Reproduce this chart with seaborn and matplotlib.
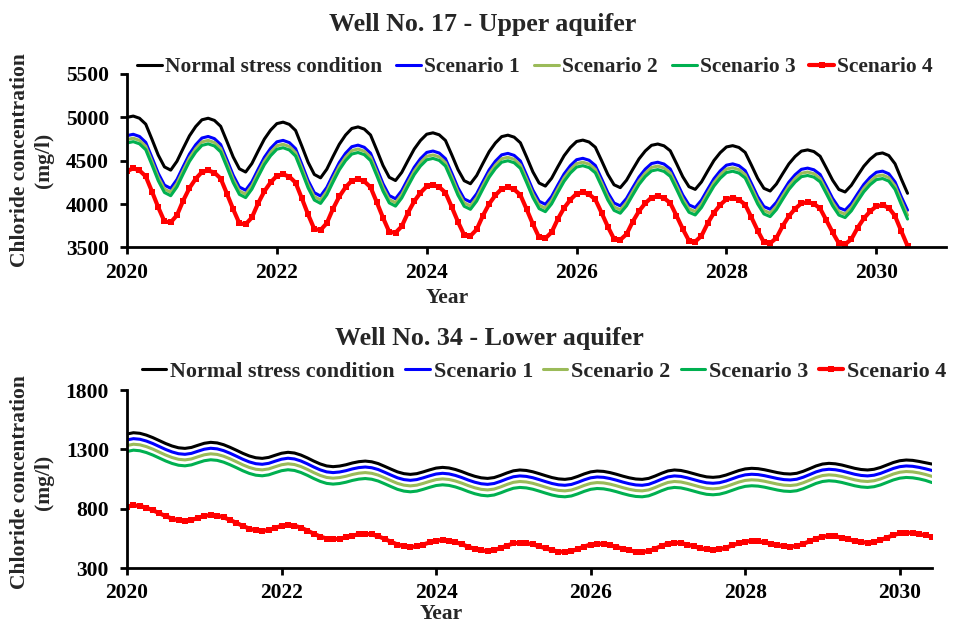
import numpy as np
import pandas as pd
import matplotlib
matplotlib.use("Agg")
import matplotlib.pyplot as plt
import seaborn as sns

# Monthly simulation steps, Jan 2020 .. Jun 2030
months = pd.date_range("2020-01-01", "2030-06-01", freq="MS")
years = np.asarray(months.year + (months.month - 1) / 12.0, dtype=float)

series_names = ["Normal stress condition", "Scenario 1", "Scenario 2",
                "Scenario 3", "Scenario 4"]
series_colors = ["#000000", "#0000FF", "#9BBB59", "#00B050", "#FF0000"]

# ---- Well No. 17 - Upper aquifer (mg/l) ----
upper_normal = [
    5000, 5015, 4990, 4922, 4747, 4566, 4429, 4392, 4494, 4643, 4787, 4894,
    4972, 4990, 4965, 4897, 4723, 4544, 4407, 4370, 4468, 4612, 4750, 4853,
    4928, 4945, 4919, 4849, 4669, 4483, 4342, 4303, 4403, 4550, 4690, 4796,
    4872, 4890, 4865, 4797, 4624, 4445, 4309, 4272, 4366, 4503, 4635, 4734,
    4806, 4822, 4799, 4734, 4570, 4399, 4270, 4235, 4330, 4470, 4605, 4705,
    4778, 4795, 4772, 4707, 4543, 4372, 4243, 4208, 4298, 4431, 4558, 4653,
    4722, 4738, 4716, 4656, 4502, 4343, 4223, 4190, 4276, 4401, 4522, 4613,
    4678, 4693, 4672, 4615, 4468, 4316, 4201, 4170, 4256, 4382, 4503, 4593,
    4659, 4674, 4653, 4596, 4449, 4297, 4182, 4151, 4232, 4350, 4464, 4549,
    4611, 4625, 4606, 4552, 4416, 4276, 4169, 4140, 4217, 4329, 4437, 4518,
    4577, 4590, 4560, 4465, 4290, 4125,
]
upper_s1 = [
    4790, 4805, 4780, 4712, 4537, 4356, 4219, 4182, 4284, 4433, 4577, 4684,
    4762, 4780, 4755, 4687, 4513, 4334, 4197, 4160, 4258, 4402, 4540, 4643,
    4718, 4735, 4709, 4639, 4459, 4273, 4132, 4093, 4193, 4340, 4480, 4586,
    4662, 4680, 4655, 4587, 4414, 4235, 4099, 4062, 4156, 4293, 4425, 4524,
    4596, 4612, 4589, 4524, 4360, 4189, 4060, 4025, 4120, 4260, 4395, 4495,
    4568, 4585, 4562, 4497, 4333, 4162, 4033, 3998, 4088, 4221, 4348, 4443,
    4512, 4528, 4506, 4446, 4292, 4133, 4013, 3980, 4066, 4191, 4312, 4403,
    4468, 4483, 4462, 4405, 4258, 4106, 3991, 3960, 4046, 4172, 4293, 4383,
    4449, 4464, 4443, 4386, 4239, 4087, 3972, 3941, 4022, 4140, 4254, 4339,
    4401, 4415, 4396, 4342, 4206, 4066, 3959, 3930, 4007, 4119, 4227, 4308,
    4367, 4380, 4350, 4255, 4085, 3930,
]
upper_s2 = [
    4745, 4760, 4735, 4667, 4492, 4311, 4174, 4137, 4239, 4388, 4532, 4639,
    4717, 4735, 4710, 4642, 4468, 4289, 4152, 4115, 4213, 4357, 4495, 4598,
    4673, 4690, 4664, 4594, 4414, 4228, 4087, 4048, 4148, 4295, 4435, 4541,
    4617, 4635, 4610, 4542, 4369, 4190, 4054, 4017, 4111, 4248, 4380, 4479,
    4551, 4567, 4544, 4479, 4315, 4144, 4015, 3980, 4075, 4215, 4350, 4450,
    4523, 4540, 4517, 4452, 4288, 4117, 3988, 3953, 4043, 4176, 4303, 4398,
    4467, 4483, 4461, 4401, 4247, 4088, 3968, 3935, 4021, 4146, 4267, 4358,
    4423, 4438, 4417, 4360, 4213, 4061, 3946, 3915, 4001, 4127, 4248, 4338,
    4404, 4419, 4398, 4341, 4194, 4042, 3927, 3896, 3977, 4095, 4209, 4294,
    4356, 4370, 4351, 4297, 4161, 4021, 3914, 3885, 3962, 4074, 4182, 4263,
    4322, 4335, 4305, 4210, 4038, 3872,
]
upper_s3 = [
    4705, 4720, 4695, 4627, 4452, 4271, 4134, 4097, 4199, 4348, 4492, 4599,
    4677, 4695, 4670, 4602, 4428, 4249, 4112, 4075, 4173, 4317, 4455, 4558,
    4633, 4650, 4624, 4554, 4374, 4188, 4047, 4008, 4108, 4255, 4395, 4501,
    4577, 4595, 4570, 4502, 4329, 4150, 4014, 3977, 4071, 4208, 4340, 4439,
    4511, 4527, 4504, 4439, 4275, 4104, 3975, 3940, 4035, 4175, 4310, 4410,
    4483, 4500, 4477, 4412, 4248, 4077, 3948, 3913, 4003, 4136, 4263, 4358,
    4427, 4443, 4421, 4361, 4207, 4048, 3928, 3895, 3981, 4106, 4227, 4318,
    4383, 4398, 4377, 4320, 4173, 4021, 3906, 3875, 3961, 4087, 4208, 4298,
    4364, 4379, 4358, 4301, 4154, 4002, 3887, 3856, 3937, 4055, 4169, 4254,
    4316, 4330, 4311, 4257, 4121, 3981, 3874, 3845, 3922, 4034, 4142, 4223,
    4282, 4295, 4265, 4170, 3995, 3828,
]
upper_s4 = [
    4380, 4413, 4388, 4320, 4145, 3964, 3800, 3790, 3872, 4041, 4185, 4292,
    4370, 4388, 4363, 4295, 4121, 3942, 3778, 3768, 3846, 4010, 4148, 4251,
    4326, 4343, 4317, 4247, 4067, 3881, 3712, 3701, 3781, 3948, 4088, 4194,
    4270, 4288, 4263, 4195, 4022, 3843, 3680, 3670, 3744, 3901, 4033, 4132,
    4204, 4220, 4197, 4132, 3968, 3797, 3643, 3633, 3708, 3868, 4003, 4103,
    4176, 4193, 4170, 4105, 3941, 3770, 3616, 3606, 3676, 3829, 3956, 4051,
    4120, 4136, 4114, 4054, 3900, 3741, 3598, 3588, 3654, 3799, 3920, 4011,
    4076, 4091, 4070, 4013, 3866, 3714, 3578, 3568, 3634, 3780, 3901, 3991,
    4057, 4072, 4051, 3994, 3847, 3695, 3559, 3549, 3610, 3748, 3862, 3947,
    4009, 4023, 4004, 3950, 3814, 3674, 3548, 3538, 3595, 3727, 3835, 3916,
    3975, 3988, 3958, 3863, 3688, 3518,
]

# ---- Well No. 34 - Lower aquifer (mg/l) ----
lower_normal = [
    1429, 1440, 1435, 1420, 1399, 1374, 1349, 1328, 1313, 1308, 1316, 1334,
    1351, 1359, 1354, 1339, 1317, 1292, 1266, 1244, 1229, 1224, 1232, 1250,
    1267, 1275, 1269, 1252, 1228, 1201, 1177, 1160, 1154, 1159, 1170, 1185,
    1196, 1201, 1195, 1180, 1157, 1133, 1110, 1095, 1089, 1095, 1110, 1127,
    1142, 1148, 1143, 1130, 1112, 1091, 1073, 1060, 1055, 1062, 1080, 1101,
    1119, 1126, 1122, 1111, 1095, 1078, 1062, 1051, 1047, 1054, 1072, 1093,
    1110, 1117, 1114, 1104, 1090, 1074, 1060, 1050, 1047, 1055, 1075, 1098,
    1118, 1126, 1122, 1110, 1095, 1080, 1068, 1064, 1069, 1083, 1102, 1121,
    1135, 1140, 1137, 1128, 1116, 1104, 1095, 1092, 1098, 1115, 1137, 1160,
    1176, 1182, 1178, 1168, 1154, 1140, 1130, 1126, 1132, 1147, 1168, 1189,
    1204, 1210, 1207, 1198, 1187, 1176,
]
lower_s1 = [
    1379, 1390, 1385, 1370, 1349, 1324, 1299, 1278, 1263, 1258, 1266, 1284,
    1301, 1309, 1304, 1289, 1267, 1242, 1216, 1194, 1179, 1174, 1182, 1200,
    1217, 1225, 1219, 1202, 1178, 1151, 1127, 1110, 1104, 1109, 1120, 1135,
    1146, 1151, 1145, 1130, 1107, 1083, 1060, 1045, 1039, 1045, 1060, 1077,
    1092, 1098, 1093, 1080, 1062, 1041, 1023, 1010, 1005, 1012, 1030, 1051,
    1069, 1076, 1072, 1061, 1045, 1028, 1012, 1001, 997, 1004, 1022, 1043,
    1060, 1067, 1064, 1054, 1040, 1024, 1010, 1000, 997, 1005, 1025, 1048,
    1068, 1076, 1072, 1060, 1045, 1030, 1018, 1014, 1019, 1033, 1052, 1071,
    1085, 1090, 1087, 1078, 1066, 1054, 1045, 1042, 1048, 1065, 1087, 1110,
    1126, 1132, 1128, 1118, 1104, 1090, 1080, 1076, 1082, 1097, 1118, 1139,
    1154, 1160, 1157, 1148, 1136, 1122,
]
lower_s2 = [
    1332, 1343, 1338, 1323, 1302, 1277, 1252, 1231, 1216, 1211, 1219, 1237,
    1254, 1262, 1257, 1242, 1220, 1195, 1169, 1147, 1132, 1127, 1135, 1153,
    1170, 1178, 1172, 1155, 1131, 1104, 1080, 1063, 1057, 1062, 1073, 1088,
    1099, 1104, 1098, 1083, 1060, 1036, 1013, 998, 992, 998, 1013, 1030,
    1045, 1051, 1046, 1033, 1015, 994, 976, 963, 958, 965, 983, 1004,
    1022, 1029, 1025, 1014, 998, 981, 965, 954, 950, 957, 975, 996,
    1013, 1020, 1017, 1007, 993, 977, 963, 953, 950, 958, 978, 1001,
    1021, 1029, 1025, 1013, 998, 983, 971, 967, 972, 986, 1005, 1024,
    1038, 1043, 1040, 1031, 1019, 1007, 998, 995, 1001, 1018, 1040, 1063,
    1079, 1085, 1081, 1071, 1057, 1043, 1033, 1029, 1035, 1050, 1071, 1092,
    1107, 1113, 1110, 1101, 1088, 1072,
]
lower_s3 = [
    1282, 1293, 1288, 1273, 1252, 1227, 1202, 1181, 1166, 1161, 1169, 1187,
    1204, 1212, 1207, 1192, 1170, 1145, 1119, 1097, 1082, 1077, 1085, 1103,
    1120, 1128, 1122, 1105, 1081, 1054, 1030, 1013, 1007, 1012, 1023, 1038,
    1049, 1054, 1048, 1033, 1010, 986, 963, 948, 942, 948, 963, 980,
    995, 1001, 996, 983, 965, 944, 926, 913, 908, 915, 933, 954,
    972, 979, 975, 964, 948, 931, 915, 904, 900, 907, 925, 946,
    963, 970, 967, 957, 943, 927, 913, 903, 900, 908, 928, 951,
    971, 979, 975, 963, 948, 933, 921, 917, 922, 936, 955, 974,
    988, 993, 990, 981, 969, 957, 948, 945, 951, 968, 990, 1013,
    1029, 1035, 1031, 1021, 1007, 993, 983, 979, 985, 1000, 1021, 1042,
    1057, 1063, 1060, 1051, 1038, 1020,
]
lower_s4 = [
    817, 828, 823, 808, 787, 762, 737, 716, 701, 696, 704, 722,
    739, 747, 742, 727, 705, 680, 654, 632, 617, 612, 620, 638,
    655, 663, 657, 640, 616, 589, 565, 548, 542, 547, 558, 573,
    584, 589, 583, 568, 545, 521, 498, 483, 477, 483, 498, 515,
    530, 536, 531, 518, 500, 479, 461, 448, 443, 450, 468, 489,
    507, 514, 510, 499, 483, 466, 450, 439, 435, 442, 460, 481,
    498, 505, 502, 492, 478, 462, 448, 438, 435, 443, 463, 486,
    506, 514, 510, 498, 483, 468, 456, 452, 457, 471, 490, 509,
    523, 528, 525, 516, 504, 492, 483, 480, 486, 503, 525, 548,
    564, 570, 566, 556, 542, 528, 518, 514, 520, 535, 556, 577,
    592, 598, 595, 586, 575, 564,
]

x_ticks = [2020, 2022, 2024, 2026, 2028, 2030]
upper_yticks = [3500, 4000, 4500, 5000, 5500]
lower_yticks = [300, 800, 1300, 1800]

sns.set_style("ticks")
plt.rcParams["font.family"] = ["Liberation Serif", "DejaVu Serif"]
plt.rcParams["font.weight"] = "bold"
plt.rcParams["axes.labelweight"] = "bold"

W, H = 961, 626
fig = plt.figure(figsize=(W / 100, H / 100), dpi=100)


def px_rect(left, top, right, bottom):
    return [left / W, 1 - bottom / H, (right - left) / W, (bottom - top) / H]


def draw_panel(ax, values, xlim, ylim, yticks):
    for name, vals, col in zip(series_names, values, series_colors):
        if name == "Scenario 4":
            sns.lineplot(x=years, y=vals, ax=ax, color=col, lw=3.0,
                         marker="s", markersize=4.2, markeredgewidth=0,
                         label=name)
        else:
            sns.lineplot(x=years, y=vals, ax=ax, color=col, lw=2.2,
                         label=name)
    ax.set_xlim(*xlim)
    ax.set_ylim(*ylim)
    ax.set_xticks(x_ticks)
    ax.set_yticks(yticks)
    for side in ("top", "right"):
        ax.spines[side].set_visible(False)
    for side in ("left", "bottom"):
        ax.spines[side].set_linewidth(2.0)
        ax.spines[side].set_color("black")
    ax.tick_params(axis="both", direction="out", length=5, width=2.0,
                   labelsize=15.5, colors="black")
    ax.tick_params(axis="y", pad=8)
    ax.tick_params(axis="x", pad=6)
    for lab in ax.get_xticklabels() + ax.get_yticklabels():
        lab.set_fontweight("bold")
    ax.set_xlabel("")
    ax.set_ylabel("")
    ax.get_legend().remove()


ax1 = fig.add_axes(px_rect(127, 74, 946, 247.5))
draw_panel(ax1, [upper_normal, upper_s1, upper_s2, upper_s3, upper_s4],
           (2020, 2030.93), (3500, 5500), upper_yticks)

ax2 = fig.add_axes(px_rect(127, 390, 932, 568))
draw_panel(ax2, [lower_normal, lower_s1, lower_s2, lower_s3, lower_s4],
           (2020, 2030.417), (300, 1800), lower_yticks)

# Titles
fig.text(483 / W, 1 - 25 / H, "Well No. 17 - Upper aquifer", ha="center",
         va="center", fontsize=18.7, fontweight="bold")
fig.text(489 / W, 1 - 338 / H, "Well No. 34 - Lower aquifer", ha="center",
         va="center", fontsize=18.7, fontweight="bold")

# Axis titles
for yc in (160, 482):
    fig.text(32 / W, 1 - yc / H, "Chloride concentration\n(mg/l)",
             rotation=90, ha="center", va="center", fontsize=15.5,
             fontweight="bold", linespacing=1.25)
fig.text(447 / W, 1 - 298 / H, "Year", ha="center", va="center",
         fontsize=15.5, fontweight="bold")
fig.text(441 / W, 1 - 614 / H, "Year", ha="center", va="center",
         fontsize=15.5, fontweight="bold")

# Legends
legend_specs = (
    (ax1, (535, 67), 15.4, 1.17, 0.14, 0.65),
    (ax2, (544, 372), 15.9, 1.12, 0.18, 0.45),
)
for ax, (cx, cy), fs, hl, htp, cs in legend_specs:
    handles, labels = ax.get_legend_handles_labels()
    fig.legend(handles, labels, loc="center",
               bbox_to_anchor=(cx / W, 1 - cy / H), ncol=5, frameon=False,
               handlelength=hl, handletextpad=htp, columnspacing=cs,
               borderaxespad=0, borderpad=0,
               prop={"weight": "bold", "size": fs})

fig.savefig("out.png", dpi=100)
